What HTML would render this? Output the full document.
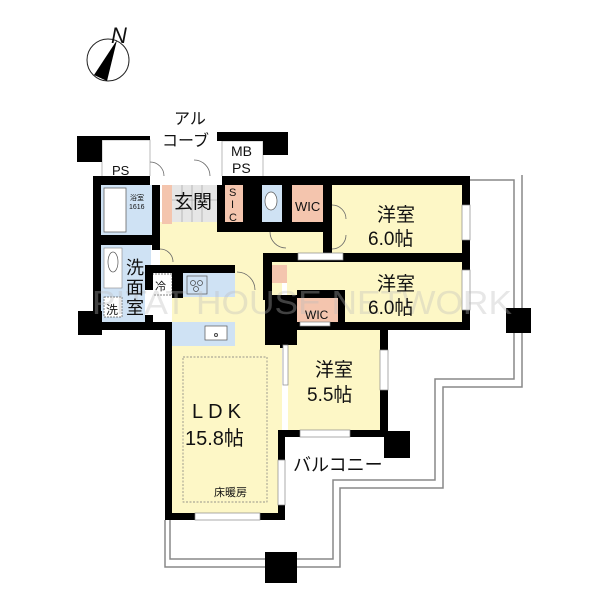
<!DOCTYPE html>
<html><head><meta charset="utf-8"><style>
html,body{margin:0;padding:0;background:#fff;}
svg{display:block;}
text{font-family:"Liberation Sans","Noto Sans CJK JP",sans-serif;fill:#111;}
</style></head><body>
<svg width="600" height="600" viewBox="0 0 600 600" xmlns="http://www.w3.org/2000/svg">
<!-- compass -->
<circle cx="108" cy="60" r="21" fill="none" stroke="#222" stroke-width="1"/>
<polygon points="117,40 94,75 107,81" fill="#000"/>
<text x="111" y="43" font-size="22" font-style="italic">N</text>

<!-- balcony outline -->
<g fill="none" stroke="#888" stroke-width="1.5">
<polyline points="470,180 514,180 514,379 435,379 435,480 333,480 333,559 170,559 170,520"/>
<polyline points="522,175 522,387 443,387 443,488 340,488 340,567 165,567 165,520"/>
</g>

<!-- floors -->
<g>
<rect x="160" y="222" width="170" height="51" fill="#fdf7c6"/>
<rect x="172" y="265" width="110" height="250" fill="#fdf7c6"/>
<rect x="235" y="262" width="30" height="60" fill="#fdf7c6"/>
<rect x="332" y="185" width="130" height="68" fill="#fdf7c6"/>
<rect x="287" y="262" width="175" height="60" fill="#fdf7c6"/>
<rect x="288" y="330" width="92" height="100" fill="#fdf7c6"/>
<rect x="101" y="184" width="51" height="51" fill="#cfe2f4"/>
<rect x="104" y="188" width="22" height="44" fill="#fff" stroke="#666" stroke-width="0.8"/>
<rect x="101" y="245" width="50" height="77" fill="#cfe2f4"/>
<rect x="104" y="248" width="18" height="40" fill="#fff" stroke="#888" stroke-width="0.6"/>
<ellipse cx="113" cy="262" rx="5" ry="10" fill="#fff" stroke="#555" stroke-width="0.7"/>
<rect x="104" y="297" width="18" height="20" fill="#fff" stroke="#555" stroke-width="0.7" stroke-dasharray="2,1"/>
<rect x="162" y="184" width="10" height="40" fill="#f4c5ae"/>
<rect x="172" y="184" width="45" height="38" fill="#e6e6e6"/>
<g stroke="#999" stroke-width="0.6"><line x1="182" y1="184" x2="182" y2="222"/><line x1="192" y1="184" x2="192" y2="222"/><line x1="202" y1="184" x2="202" y2="222"/><line x1="172" y1="200" x2="217" y2="200"/></g>
<rect x="225" y="184" width="18" height="38" fill="#f4c5ae"/>
<rect x="262" y="184" width="20" height="38" fill="#cfe2f4"/>
<ellipse cx="271" cy="201" rx="6" ry="9" fill="#fff" stroke="#555" stroke-width="0.7"/>
<rect x="292" y="184" width="31" height="40" fill="#f4c5ae"/>
<rect x="152" y="274" width="20" height="21" fill="#fff" stroke="#555" stroke-width="0.7" stroke-dasharray="2,1"/>
<rect x="183" y="273" width="52" height="24" fill="#cfe2f4"/>
<rect x="187" y="276" width="20" height="18" fill="#cfe2f4" stroke="#555" stroke-width="0.7"/>
<circle cx="193" cy="283" r="2.5" fill="none" stroke="#444" stroke-width="0.7"/><circle cx="200" cy="283" r="2.5" fill="none" stroke="#444" stroke-width="0.7"/><circle cx="196" cy="289" r="2.5" fill="none" stroke="#444" stroke-width="0.7"/>
<rect x="172" y="322" width="63" height="24" fill="#cfe2f4"/>
<rect x="205" y="326" width="22" height="14" fill="#fff" stroke="#555" stroke-width="0.7"/>
<circle cx="216" cy="335" r="1.5" fill="none" stroke="#444"/>
<rect x="183" y="357" width="84" height="145" fill="none" stroke="#777" stroke-width="0.7" stroke-dasharray="2,1.5"/>
<rect x="272" y="265" width="15" height="18" fill="#f4c5ae"/>
<rect x="297" y="298" width="41" height="24" fill="#f4c5ae"/>
<rect x="275" y="298" width="12" height="12" fill="#f4c5ae"/>
<rect x="102" y="140" width="48" height="37" fill="#fff" stroke="#aaa" stroke-width="0.8"/>
<rect x="222" y="141" width="41" height="36" fill="#fff" stroke="#aaa" stroke-width="0.8"/>
</g>

<!-- walls -->
<g fill="#000">
<rect x="93" y="176" width="377" height="9"/>
<rect x="93" y="176" width="8" height="154"/>
<rect x="93" y="322" width="79" height="8"/>
<rect x="165" y="322" width="7" height="198"/>
<rect x="165" y="513" width="120" height="7"/>
<rect x="278" y="430" width="7" height="90"/>
<rect x="278" y="430" width="110" height="7"/>
<rect x="380" y="330" width="8" height="107"/>
<rect x="462" y="176" width="8" height="154"/>
<rect x="287" y="322" width="183" height="8"/>
<rect x="263" y="253" width="207" height="9"/>
<rect x="263" y="253" width="9" height="47"/>
<rect x="265" y="295" width="32" height="50"/>
<rect x="280" y="330" width="8" height="18"/>
<rect x="297" y="290" width="48" height="8"/>
<rect x="338" y="290" width="7" height="32"/>
<rect x="101" y="235" width="59" height="10"/>
<rect x="152" y="184" width="8" height="82"/>
<rect x="145" y="265" width="90" height="8"/>
<rect x="145" y="265" width="8" height="57"/>
<rect x="172" y="273" width="11" height="25"/>
<rect x="217" y="184" width="8" height="48"/>
<rect x="243" y="184" width="12" height="48"/>
<rect x="217" y="222" width="38" height="10"/>
<rect x="255" y="184" width="7" height="48"/>
<rect x="282" y="184" width="10" height="48"/>
<rect x="255" y="222" width="77" height="10"/>
<rect x="323" y="184" width="9" height="70"/>
<rect x="77" y="136" width="25" height="26"/>
<rect x="78" y="311" width="24" height="24"/>
<rect x="506" y="308" width="25" height="25"/>
<rect x="384" y="431" width="26" height="27"/>
<rect x="265" y="552" width="32" height="31"/>
<rect x="217" y="132" width="71" height="9"/>
<rect x="263" y="132" width="25" height="23"/>
<rect x="102" y="136" width="48" height="4"/>
</g>

<g fill="#fff" stroke="#888" stroke-width="0.7">
<rect x="150" y="176" width="72" height="9" stroke="none"/>
<rect x="283" y="345" width="5" height="40"/>
<rect x="278" y="460" width="7" height="45"/>
<rect x="195" y="513" width="65" height="7"/>
<rect x="300" y="430" width="50" height="7"/>
<rect x="380" y="350" width="8" height="40"/>
<rect x="462" y="205" width="8" height="35"/>
<rect x="462" y="270" width="8" height="40"/>
<rect x="298" y="253" width="45" height="7"/>
<rect x="300" y="322" width="30" height="4"/>
<rect x="152" y="250" width="8" height="15" stroke="none"/>
<rect x="145" y="290" width="8" height="25" stroke="none"/>
</g>
<g fill="none" stroke="#666" stroke-width="0.8">
<path d="M150,162 A14,14 0 0 1 164,176"/>
<path d="M194,160 A16,16 0 0 1 210,176"/>
<path d="M332,205 A14,14 0 0 1 346,219"/>
<path d="M332,249 A14,14 0 0 0 346,235"/>
<path d="M160,249 A13,13 0 0 1 173,262"/>
<path d="M237,272 A18,18 0 0 1 255,290"/>
<path d="M270,232 A16,16 0 0 0 286,248"/>
</g>

<text x="92" y="314" font-size="33" style="fill:#bbb" fill-opacity="0.35" textLength="420" lengthAdjust="spacingAndGlyphs">PITAT HOUSE NETWORK</text>

<text x="174" y="124" font-size="16">アル</text>
<text x="162" y="146" font-size="16">コーブ</text>
<text x="112" y="175" font-size="13">PS</text>
<text x="231" y="156" font-size="14">MB</text>
<text x="232" y="173" font-size="14">PS</text>
<text x="174" y="208" font-size="19">玄関</text>
<text x="229" y="196" font-size="11">S</text>
<text x="231" y="208" font-size="11">I</text>
<text x="229" y="221" font-size="11">C</text>
<text x="130" y="200" font-size="7">浴室</text>
<text x="129" y="209" font-size="7">1616</text>
<text x="295" y="211" font-size="13">WIC</text>
<text x="305" y="319" font-size="12">WIC</text>
<text x="126" y="274" font-size="18">洗</text>
<text x="126" y="294" font-size="18">面</text>
<text x="126" y="314" font-size="18">室</text>
<text x="106" y="314" font-size="12">洗</text>
<text x="155" y="290" font-size="11">冷</text>
<text x="377" y="221" font-size="19">洋室</text>
<text x="368" y="245" font-size="19">6.0帖</text>
<text x="377" y="290" font-size="19">洋室</text>
<text x="368" y="314" font-size="19">6.0帖</text>
<text x="315" y="376" font-size="19">洋室</text>
<text x="307" y="401" font-size="19">5.5帖</text>
<text x="192" y="418" font-size="20" letter-spacing="5">LDK</text>
<text x="185" y="445" font-size="20">15.8帖</text>
<text x="214" y="496" font-size="11">床暖房</text>
<text x="293" y="471" font-size="18">バルコニー</text>
</svg>
</body></html>
